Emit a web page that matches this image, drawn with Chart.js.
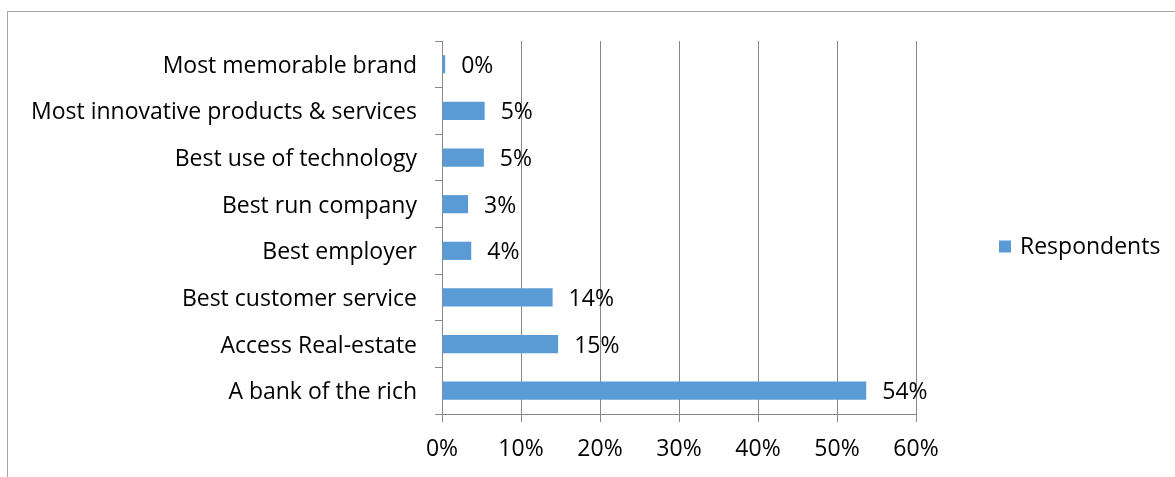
<!DOCTYPE html>
<html>
<head>
<meta charset="utf-8">
<script src="https://cdn.jsdelivr.net/npm/chart.js@4.4.0/dist/chart.umd.min.js"></script>
<style>
  html, body { margin: 0; padding: 0; background: #fff; overflow: hidden; }
  #wrap { position: relative; width: 1175px; height: 477px; }
  #frame { position: absolute; left: 7px; top: 11px; width: 1200px; height: 500px; border: 1px solid #a6a6a6; box-sizing: border-box; }
  canvas { position: absolute; left: 0; top: 0; }
</style>
</head>
<body>
<div id="wrap">
  <div id="frame"></div>
  <canvas id="chart" width="1175" height="477"></canvas>
</div>
<script>
// Survey answers, top to bottom
const categories = [
  'Most memorable brand',
  'Most innovative products & services',
  'Best use of technology',
  'Best run company',
  'Best employer',
  'Best customer service',
  'Access Real-estate',
  'A bank of the rich'
];
const respondents = [0.4, 5.4, 5.3, 3.3, 3.7, 14.0, 14.7, 53.7];
const xTicks = [0, 10, 20, 30, 40, 50, 60];
const seriesName = 'Respondents';

const barColor = '#5b9bd5';
const gridColor = '#878787';
const fontFamily = "'Open Sans', sans-serif";
const fontSize = 23;

// Percent labels at the end of each bar
const barLabels = {
  id: 'barLabels',
  afterDatasetsDraw(chart) {
    const ctx = chart.ctx;
    const meta = chart.getDatasetMeta(0);
    ctx.save();
    ctx.font = fontSize + 'px ' + fontFamily;
    ctx.fillStyle = '#000';
    ctx.textAlign = 'left';
    ctx.textBaseline = 'middle';
    meta.data.forEach((bar, i) => {
      ctx.fillText(Math.round(respondents[i]) + '%', bar.x + 16, bar.y + 2);
    });
    ctx.restore();
  }
};

// Single-entry legend to the right of the plot
const sideLegend = {
  id: 'sideLegend',
  afterDraw(chart) {
    const ctx = chart.ctx;
    const area = chart.chartArea;
    const midY = (area.top + area.bottom) / 2 + 19;
    const x = area.right + 83;
    ctx.save();
    ctx.fillStyle = barColor;
    ctx.fillRect(x, midY - 6, 12, 12);
    ctx.font = fontSize + 'px ' + fontFamily;
    ctx.fillStyle = '#000';
    ctx.textAlign = 'left';
    ctx.textBaseline = 'middle';
    ctx.fillText(seriesName, x + 21, midY + 1);
    ctx.restore();
  }
};

new Chart(document.getElementById('chart'), {
  type: 'bar',
  data: {
    labels: categories,
    datasets: [{
      label: seriesName,
      data: respondents,
      backgroundColor: barColor,
      borderWidth: 0,
      barPercentage: 0.39,
      categoryPercentage: 1
    }]
  },
  options: {
    responsive: false,
    animation: false,
    indexAxis: 'y',
    layout: { padding: { top: 41, right: 259, bottom: 0, left: 0 } },
    plugins: {
      legend: { display: false },
      tooltip: { enabled: false }
    },
    scales: {
      x: {
        min: 0,
        max: 60,
        afterBuildTicks: scale => { scale.ticks = xTicks.map(v => ({ value: v })); },
        afterFit: scale => { scale.height = 63; },
        grid: { color: gridColor, tickLength: 8, lineWidth: 1 },
        border: { color: gridColor },
        ticks: {
          color: '#000',
          padding: 14,
          font: { family: fontFamily, size: fontSize },
          callback: v => v + '%'
        }
      },
      y: {
        afterFit: scale => { scale.width = 442; },
        grid: { drawOnChartArea: false, tickLength: 7, color: gridColor, offset: true },
        border: { color: gridColor },
        ticks: {
          color: '#000',
          padding: 18,
          labelOffset: 2,
          font: { family: fontFamily, size: fontSize }
        }
      }
    }
  },
  plugins: [barLabels, sideLegend]
});
</script>
</body>
</html>
